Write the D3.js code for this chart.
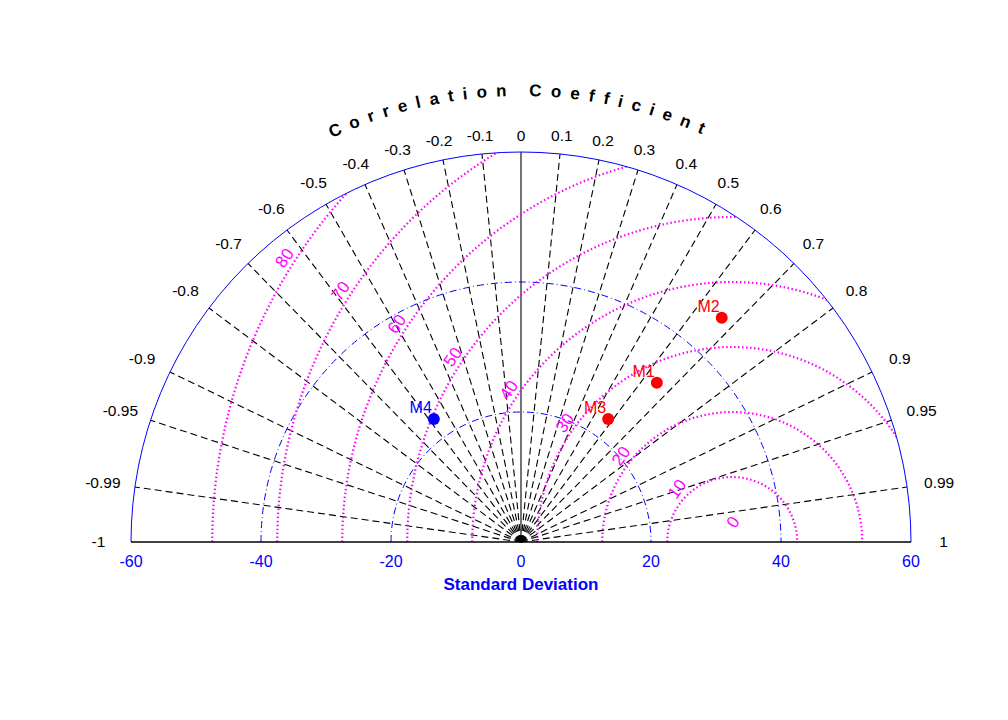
<!DOCTYPE html>
<html><head><meta charset="utf-8">
<script src="https://cdn.jsdelivr.net/npm/d3@7"></script>
<style>body{margin:0;background:#fff}text{font-family:Helvetica,"Liberation Sans",Arial,sans-serif}</style>
</head><body><svg id="c" width="1008" height="720"></svg>
<script>
const corrTicks = [0, 0.1, 0.2, 0.3, 0.4, 0.5, 0.6, 0.7, 0.8, 0.9, 0.95, 0.99, 1];
const allCorr = corrTicks.concat(corrTicks.filter(d => d > 0).map(d => -d));
const stdTicks = [-60, -40, -20, 0, 20, 40, 60];
const stdCircles = [20, 40];
const refStd = 32.5;
const rmsLevels = [0, 10, 20, 30, 40, 50, 60, 70, 80];
const models = ['M1', 'M2', 'M3', 'M4'];
const modelStd = [32.2, 46.3, 23.2, 23.2];
const modelCorr = [0.649, 0.667, 0.578, -0.578];
const modelColor = ['red', 'red', 'red', 'blue'];

const svg = d3.select('#c');
const cx = 521, cy = 542, R = 390, maxStd = 60;
const x = d3.scaleLinear().domain([-maxStd, maxStd]).range([cx - R, cx + R]);
const r = d3.scaleLinear().domain([0, maxStd]).range([0, R]);
const px = (s, c) => x(s * c);
const py = (s, c) => cy - r(s * Math.sqrt(Math.max(0, 1 - c * c)));

svg.append('defs').append('clipPath').attr('id', 'half')
  .append('path').attr('d', `M${cx - R},${cy} A${R},${R} 0 0 1 ${cx + R},${cy} Z`);
const g = svg.append('g');

// correlation rays
allCorr.forEach(c => {
  if (Math.abs(c) === 1) return;
  g.append('line').attr('x1', cx).attr('y1', cy)
    .attr('x2', px(maxStd, c)).attr('y2', py(maxStd, c))
    .attr('stroke', 'black').attr('stroke-width', c === 0 ? 1.1 : 1.1)
    .attr('stroke-dasharray', c === 0 ? null : '7,4');
});
// std circles
stdCircles.forEach(s => {
  g.append('path').attr('d', `M${x(-s)},${cy} A${r(s)},${r(s)} 0 0 1 ${x(s)},${cy}`)
    .attr('fill', 'none').attr('stroke', 'blue').attr('stroke-width', 1)
    .attr('stroke-dasharray', '7,3,1,3');
});
// rms circles
const rg = g.append('g').attr('clip-path', 'url(#half)');
rmsLevels.filter(d => d > 0).forEach(d => {
  rg.append('path').attr('d', `M${x(refStd - d)},${cy} A${r(d)},${r(d)} 0 0 1 ${x(refStd + d)},${cy}`)
    .attr('fill', 'none').attr('stroke', 'magenta').attr('stroke-width', 2.2)
    .attr('stroke-dasharray', '1.5,2.5');
});
// rms labels along a line
const l0 = [32.6, 3.1], l1 = [-36.4, 43.7];
rmsLevels.forEach(d => {
  const t = d / 80;
  const lx = x(l0[0] + t * (l1[0] - l0[0])), ly = cy - r(l0[1] + t * (l1[1] - l0[1]));
  g.append('text').attr('transform', `translate(${lx},${ly}) rotate(-55)`)
    .attr('text-anchor', 'middle').attr('dy', '0.35em').attr('fill', 'magenta')
    .attr('font-size', 17).text(d);
});
// outer circle and axis
g.append('path').attr('d', `M${x(-maxStd)},${cy} A${R},${R} 0 0 1 ${x(maxStd)},${cy}`)
  .attr('fill', 'none').attr('stroke', 'blue').attr('stroke-width', 1);
g.append('line').attr('x1', x(-maxStd)).attr('x2', x(maxStd)).attr('y1', cy).attr('y2', cy)
  .attr('stroke', 'black').attr('stroke-width', 1.3);
stdTicks.forEach(s => {
  g.append('text').attr('x', x(s)).attr('y', cy + 25).attr('text-anchor', 'middle')
    .attr('fill', 'blue').attr('font-size', 16).text(s);
});
g.append('text').attr('x', cx).attr('y', cy + 48).attr('text-anchor', 'middle')
  .attr('fill', 'blue').attr('font-size', 17).attr('font-weight', 'bold').text('Standard Deviation');
// corr labels
allCorr.forEach(c => {
  const rr = 62.6 + 2.4 * Math.abs(c);
  g.append('text').attr('x', px(rr, c)).attr('y', py(rr, c)).attr('dy', '0.35em')
    .attr('text-anchor', 'middle').attr('font-size', 15.5).text(c);
});
// curved title
const TR = 446;
svg.select('defs').append('path').attr('id', 'tpath')
  .attr('d', `M${cx - TR},${cy} A${TR},${TR} 0 0 1 ${cx + TR},${cy}`);
svg.append('text').attr('font-size', 17).attr('font-weight', 'bold').attr('letter-spacing', 9)
  .append('textPath').attr('href', '#tpath').attr('startOffset', '50%').attr('text-anchor', 'middle')
  .text('Correlation Coefficient');
// points
models.forEach((m, i) => {
  const mx = px(modelStd[i], modelCorr[i]), my = py(modelStd[i], modelCorr[i]);
  g.append('circle').attr('cx', mx).attr('cy', my).attr('r', 6).attr('fill', modelColor[i]);
  g.append('text').attr('x', mx - 2).attr('y', my - 6).attr('text-anchor', 'end')
    .attr('fill', modelColor[i]).attr('font-size', 16).text(m);
});
</script></body></html>
